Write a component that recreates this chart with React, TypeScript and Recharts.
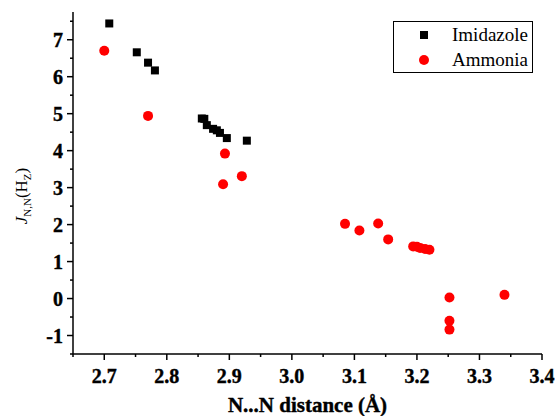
import React from "react";
import { ScatterChart, Scatter, XAxis, YAxis } from "recharts";

const IMIDAZOLE_X = [2.708, 2.752, 2.77, 2.781, 2.856, 2.86, 2.864, 2.874, 2.88, 2.885, 2.896, 2.928];
const IMIDAZOLE_Y = [7.44, 6.66, 6.38, 6.17, 4.87, 4.86, 4.69, 4.59, 4.55, 4.48, 4.34, 4.27];

const AMMONIA_X = [2.7, 2.77, 2.893, 2.89, 2.92, 3.085, 3.108, 3.138, 3.154, 3.194, 3.2, 3.205, 3.213, 3.22, 3.252, 3.252, 3.252, 3.34];
const AMMONIA_Y = [6.7, 4.94, 3.92, 3.09, 3.31, 2.02, 1.84, 2.03, 1.6, 1.41, 1.4, 1.37, 1.34, 1.32, 0.03, -0.6, -0.84, 0.1];

const X_MAJOR = [2.7, 2.8, 2.9, 3.0, 3.1, 3.2, 3.3, 3.4];
const X_MINOR = [2.65, 2.75, 2.85, 2.95, 3.05, 3.15, 3.25, 3.35];
const Y_MAJOR = [-1, 0, 1, 2, 3, 4, 5, 6, 7];
const Y_MINOR = [-1.5, -0.5, 0.5, 1.5, 2.5, 3.5, 4.5, 5.5, 6.5, 7.5];

const imidazole = IMIDAZOLE_X.map((x, i) => ({ x, y: IMIDAZOLE_Y[i] }));
const ammonia = AMMONIA_X.map((x, i) => ({ x, y: AMMONIA_Y[i] }));

// drop the default body margin so the chart can use the whole window
if (typeof document !== "undefined") document.body.style.margin = "0";

const FONT = "Liberation Serif";
const boldText = { fontFamily: FONT, fontWeight: "bold", fill: "#000", stroke: "#000", strokeWidth: 0.4 };

const XTick = (props: any) => {
  const { x, y, payload } = props;
  const major = X_MAJOR.includes(payload.value);
  if (!major) return <line x1={x} x2={x} y1={y} y2={y + 3} stroke="#000" strokeWidth={1.5} />;
  return (
    <g>
      <line x1={x} x2={x} y1={y} y2={y + 6} stroke="#000" strokeWidth={1.5} />
      <text x={x} y={y + 29} textAnchor="middle" fontSize={20} {...boldText}>
        {payload.value.toFixed(1)}
      </text>
    </g>
  );
};

const YTick = (props: any) => {
  const { x, y, payload } = props;
  const major = Y_MAJOR.includes(payload.value);
  if (!major) return <line x1={x} x2={x - 3} y1={y} y2={y} stroke="#000" strokeWidth={1.5} />;
  return (
    <g>
      <line x1={x} x2={x - 6} y1={y} y2={y} stroke="#000" strokeWidth={1.5} />
      <text x={x - 10} y={y} dy="0.35em" textAnchor="end" fontSize={20} {...boldText}>
        {payload.value}
      </text>
    </g>
  );
};

const Square = (props: any) => (
  <rect x={props.cx - 4} y={props.cy - 4} width={8} height={8} fill="#000" />
);
const Dot = (props: any) => <circle cx={props.cx} cy={props.cy} r={5} fill="#ff0000" />;

const XLabel = (props: any) => {
  const { x, y, width } = props.viewBox;
  return (
    <text x={x + width / 2} y={y + 58} textAnchor="middle" fontSize={21} {...boldText}>
      N...N distance (Å)
    </text>
  );
};

const YLabel = () => {
  const cx = 27;
  const cy = 196;
  return (
    <text
      x={cx}
      y={cy}
      transform={`rotate(-90, ${cx}, ${cy})`}
      textAnchor="middle"
      fontFamily={FONT}
      fontSize={17}
      fill="#000"
    >
      <tspan fontStyle="italic">J</tspan>
      <tspan fontSize={11} dy={4}>N,N</tspan>
      <tspan dy={-4}>(H</tspan>
      <tspan fontSize={11} dy={4}>Z</tspan>
      <tspan dy={-4}>)</tspan>
    </text>
  );
};

const LEGEND_ITEMS = [
  { name: "Imidazole", marker: <div style={{ width: 8, height: 8, background: "#000" }} /> },
  { name: "Ammonia", marker: <div style={{ width: 10, height: 10, borderRadius: 5, background: "#ff0000" }} /> },
];

const LegendBox = () => (
  <div
    style={{
      position: "absolute",
      left: 393,
      top: 21,
      border: "1px solid #000",
      width: 138,
      height: 50,
      fontFamily: FONT,
      fontSize: 19,
      background: "#fff",
    }}
  >
    {LEGEND_ITEMS.map((item) => (
      <div key={item.name} style={{ display: "flex", alignItems: "center", height: 25 }}>
        <div style={{ width: 57, display: "flex", justifyContent: "center", paddingLeft: 1 }}>{item.marker}</div>
        <span>{item.name}</span>
      </div>
    ))}
  </div>
);

export default function App() {
  return (
    <div style={{ position: "relative", width: 556, height: 416 }}>
      <ScatterChart width={556} height={416} margin={{ top: 12, right: 14, left: 18, bottom: 12 }}>
        <XAxis
          type="number"
          dataKey="x"
          domain={[2.65, 3.4]}
          ticks={[...X_MAJOR, ...X_MINOR].sort((a, b) => a - b)}
          interval={0}
          tickSize={0}
          tickMargin={0}
          tickLine={false}
          tick={<XTick />}
          axisLine={{ stroke: "#000", strokeWidth: 1.5 }}
          height={50}
          label={<XLabel />}
        />
        <YAxis
          type="number"
          dataKey="y"
          domain={[-1.5, 7.75]}
          ticks={[...Y_MAJOR, ...Y_MINOR].sort((a, b) => a - b)}
          interval={0}
          tickSize={0}
          tickMargin={0}
          tickLine={false}
          tick={<YTick />}
          axisLine={{ stroke: "#000", strokeWidth: 1.5 }}
          width={55}
          label={<YLabel />}
        />
        <Scatter name="Imidazole" data={imidazole} shape={<Square />} isAnimationActive={false} />
        <Scatter name="Ammonia" data={ammonia} shape={<Dot />} isAnimationActive={false} />
      </ScatterChart>
      <LegendBox />
    </div>
  );
}
